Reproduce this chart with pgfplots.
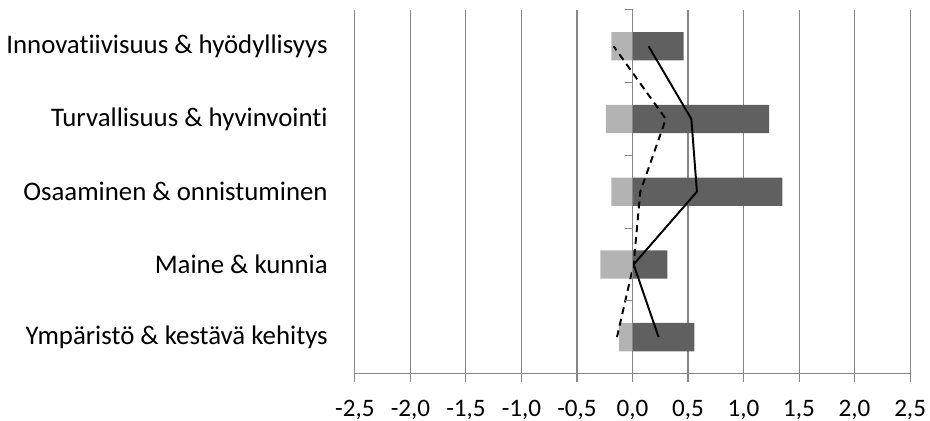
\documentclass[border=0pt]{standalone}
\usepackage{fontspec}
\setmainfont{Carlito}[Ligatures=NoCommon]
\usepackage{pgfplots}
\pgfplotsset{compat=1.18}
\definecolor{gridgray}{RGB}{134,134,134}
\definecolor{lightbar}{RGB}{179,179,179}
\definecolor{darkbar}{RGB}{96,96,96}
\begin{document}
\begin{tikzpicture}
\begin{axis}[
  name=ax,
  at={(164.1pt,21.5pt)}, anchor=south west,
  scale only axis,
  width=256.7pt, height=168.1pt,
  xmin=-2.5, xmax=2.5,
  ymin=-0.5, ymax=4.5,
  xtick={-2.5,-2,-1.5,-1,-0.5,0,0.5,1,1.5,2,2.5},
  ytick={0,1,2,3,4},
  yticklabels={Ympäristö \& kestävä kehitys, Maine \& kunnia, Osaaminen \& onnistuminen, Turvallisuus \& hyvinvointi, Innovatiivisuus \& hyödyllisyys},
  axis x line*=bottom,
  axis y line*=left,
  axis line style={gridgray, line width=0.5pt, -},
  xmajorgrids,
  grid style={gridgray, line width=0.5pt},
  tick align=outside,
  major tick length=3.7pt,
  x tick style={gridgray, line width=0.5pt},
  y tick style={draw=none},
  xticklabel style={font=\fontsize{11.6pt}{13pt}\selectfont, yshift=-5pt, /pgf/number format/.cd, fixed, fixed zerofill, precision=1, use comma, assume math mode=true},
  yticklabel style={font=\fontsize{12.4pt}{14pt}\selectfont, inner sep=0pt, xshift=-8.7pt},
  clip=false,
]
\addplot[xbar, bar width=0.39, bar shift=0pt, fill=lightbar, draw=none]
  coordinates {(-0.12,0) (-0.29,1) (-0.19,2) (-0.24,3) (-0.19,4)};
\addplot[xbar, bar width=0.39, bar shift=0pt, fill=darkbar, draw=none]
  coordinates {(0.556,0) (0.315,1) (1.35,2) (1.23,3) (0.46,4)};
\addplot[black, line width=0.9pt, mark=none]
  coordinates {(0.235,0) (0.01,1) (0.58,2) (0.53,3) (0.145,4)};
\addplot[black, line width=0.9pt, mark=none, dash pattern=on 3.2pt off 2.3pt]
  coordinates {(-0.14,0) (0.01,1) (0.07,2) (0.30,3) (-0.17,4)};
\draw[gridgray, line width=0.5pt] (axis cs:0,-0.5) -- (axis cs:0,4.5);
\pgfplotsinvokeforeach{-0.5,0.5,1.5,2.5,3.5,4.5}{
  \draw[gridgray, line width=0.5pt] (axis cs:0,#1) -- ++(-3.7pt,0pt);
}
\end{axis}
\pgfresetboundingbox
\path (0,0) rectangle (430pt,194.2pt);
\end{tikzpicture}
\end{document}
